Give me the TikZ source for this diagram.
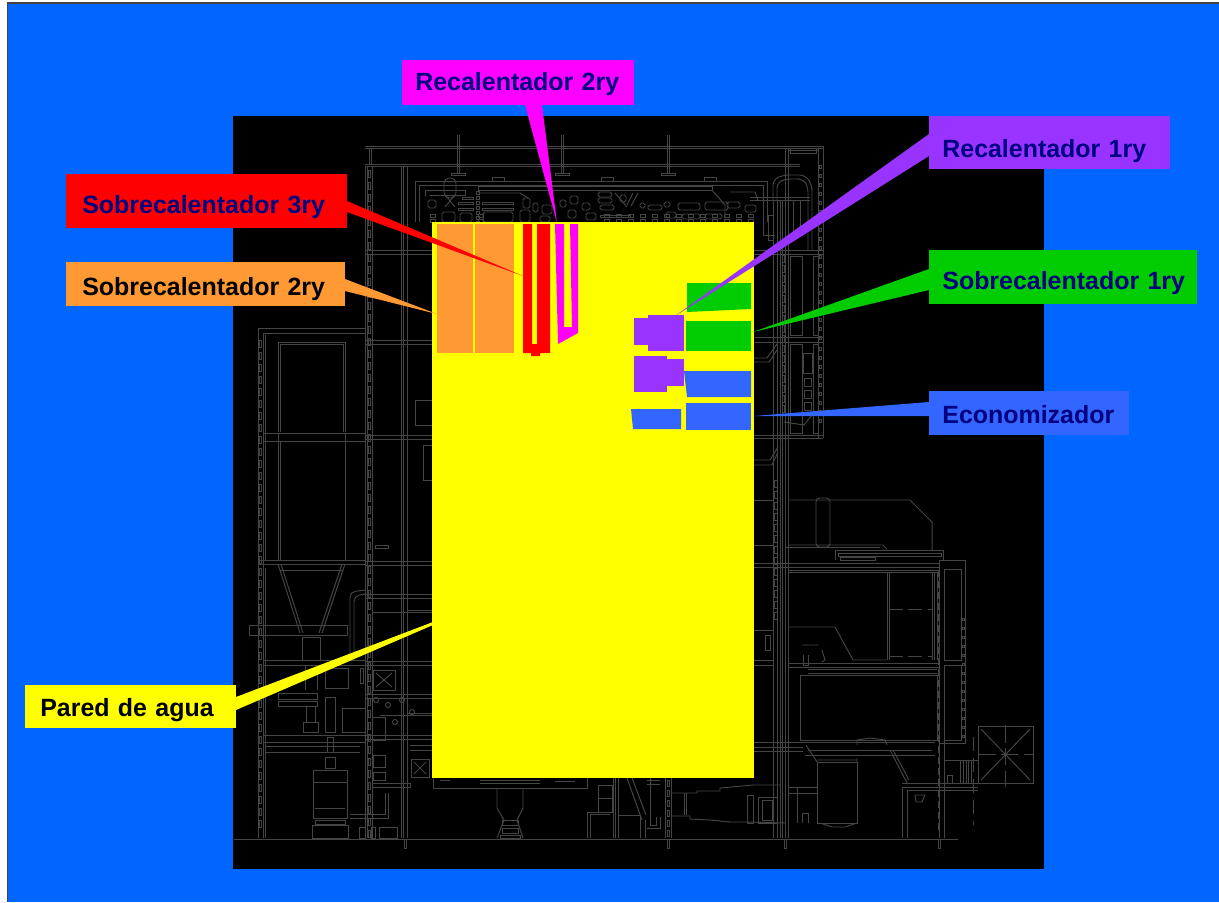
\documentclass[tikz,border=0pt]{standalone}
\usepackage{fontspec}
\setmainfont{Liberation Sans}
\definecolor{seablue}{HTML}{0066FF}
\definecolor{wirecol}{HTML}{454545}
\definecolor{yellowwall}{HTML}{FFFF00}
\definecolor{redpart}{HTML}{FF0000}
\definecolor{magentapart}{HTML}{FF00FF}
\definecolor{orangepart}{HTML}{FF9933}
\definecolor{purplepart}{HTML}{9933FF}
\definecolor{greenpart}{HTML}{00CC00}
\definecolor{bluepart}{HTML}{3366FF}
\definecolor{navytext}{HTML}{000080}
\newcommand{\liftby}[2]{\raisebox{-#1\dimexpr0.02cm\relax}[0pt][0pt]{#2}}
\tikzset{
    wire/.style={draw=wirecol, line width=0.55pt},
    tag/.style={anchor=north west, inner xsep=0.26cm, inner ysep=0pt, align=left,
        font=\fontsize{14.2}{16}\selectfont\bfseries, text=navytext}
}

\begin{document}
\begin{tikzpicture}[x=0.02cm, y=-0.02cm]
    \useasboundingbox (0,0) rectangle (1219,902);

    % Slide background
    \fill[white] (0,0) rectangle (1219,902);
    \fill[wirecol] (7,2) rectangle (1219,902);
    \fill[seablue] (8,4) rectangle (1219,902);
    \fill[black] (233,116) rectangle (1044,869);

    % Top frame and roof posts
    \draw[wire] (365,146) -- (823,146) (365,148) -- (823,148);
    \draw[wire] (365,164) -- (800,164) (365,166) -- (800,166);
    \draw[wire] (369,148) -- (369,164) (371,148) -- (371,164);
    \foreach \px in {458,562,668} {
        \draw[wire] (\px-1,135) -- (\px-1,173) (\px+1,135) -- (\px+1,173);
        \draw[wire] (\px-7,173) rectangle (\px+7,175);
    }
    \draw[wire] (415,222) -- (415,181) -- (767,181) -- (767,222);
    \draw[wire] (419,222) -- (419,185) -- (763,185) -- (763,222);
    \foreach \px in {498,607,710}
        \draw[wire] (\px-6,177) rectangle (\px+6,181);

    % Header details above the furnace
    \draw[wire, rounded corners=3pt] (444,198) -- (444,178) -- (456,178) -- (456,198) -- cycle;
    \draw[wire] (445,195) -- (455,207) (455,195) -- (445,207);
    \draw[wire] (425,196) -- (425,190) -- (465,190) -- (465,195) -- (430,195);
    \draw[wire] (478,186) rectangle (712,190);
    \draw[wire] (478,193) -- (520,193) -- (528,198);
    \draw[wire] (712,190) -- (725,205) -- (725,222);
    \draw[wire] (730,192) -- (755,192) -- (758,200);
    \foreach \py/\wa/\wb in {203/458/473,209/458/473,203/482/513,209/482/513,198/462/473,216/600/630}
        \draw[wire] (\wa,\py-1) rectangle (\wb,\py+1);
    \foreach \ax/\ay/\bx/\by in {442/212/455/222,460/213/472/222,483/212/513/222,
        598/192/612/197,598/198/612/203,600/205/614/210,678/203/700/210,
        705/202/728/210,640/203/645/208,648/205/662/210,523/198/530/208,
        533/203/538/212,542/205/552/214,560/200/566/207,570/196/578/204,
        582/203/590/210,568/210/576/218,586/213/596/220,620/195/626/202,
        664/202/670/207,666/212/676/218,682/214/700/219,705/214/722/219,
        727/202/740/208,745/205/756/212,428/200/436/208,520/210/530/222,
        540/216/550/222}
        \draw[wire, rounded corners=1pt] (\ax,\ay) rectangle (\bx,\by);
    \foreach \ax in {430,478,604,616,628,640,652,664,676,688,700,712,724,736,748}
        \foreach \ay in {214,219}
            \draw[wire] (\ax,\ay) rectangle (\ax+5,\ay+3);
    \foreach \ay in {191,196,...,221}
        \draw[wire] (476,\ay) rectangle (479,\ay+3);
    \draw[wire] (633,193) -- (627,205) (638,193) -- (631,206) (615,193) -- (627,207);

    % Left tower columns
    \foreach \px in {365,367,372,401,403,407}
        \draw[wire] (\px,166) -- (\px,838);
    \foreach \ay in {170,182,...,830}
        \draw[wire] (368.5,\ay) rectangle (370.5,\ay+7);
    \foreach \ay in {250,340,435,561,594,661,694,735}
        \draw[wire] (365,\ay) -- (432,\ay) (365,\ay+4) -- (432,\ay+4);
    \draw[wire] (372,612) -- (432,612) (407,610) -- (432,610);
    \draw[wire] (407,713) -- (432,713);
    \draw[wire] (375,545) rectangle (388,548);
    \draw[wire] (415,400) rectangle (432,425);
    \draw[wire] (423,445) rectangle (432,480);

    % Left lower building
    \draw[wire] (365,328) -- (258,328) -- (258,838);
    \draw[wire] (365,333) -- (263,333) -- (263,838);
    \draw[wire] (265,335) -- (265,560) (265,568) -- (265,838);
    \foreach \ay in {340,352,...,830}
        \draw[wire] (259.5,\ay) rectangle (261.5,\ay+7);
    \draw[wire] (278,432) -- (278,342) -- (345,342) -- (345,432);
    \draw[wire] (280,432) -- (280,344) -- (343,344) -- (343,432);
    \draw[wire] (263,433) -- (365,433) (263,441) -- (365,441);
    \draw[wire] (278,433) -- (278,441) (345,433) -- (345,441);
    \draw[wire] (278,441) -- (278,560) (345,441) -- (345,560) (280,441) -- (280,560);
    \draw[wire] (258,560) -- (365,560) (258,564) -- (365,564);

    % Hopper and what hangs below it
    \draw[wire] (278,564) -- (300,633) (281,564) -- (303,633);
    \draw[wire] (345,564) -- (322,633) (342,564) -- (319,633);
    \draw[wire] (280,570) -- (343,570);
    \draw[wire] (249,625) rectangle (347,635);
    \draw[wire] (302,637) rectangle (320,660);
    \draw[wire] (263,660) -- (365,660) (263,665) -- (365,665);
    \draw[wire] (305,665) -- (305,690) (317,665) -- (317,690);
    \draw[wire, rounded corners=3pt] (350,660) -- (350,592) -- (365,590);
    \draw[wire, rounded corners=3pt] (354,660) -- (354,596) -- (365,594);
    \draw[wire] (325,668) rectangle (348,688);
    \draw[wire] (360,668) rectangle (363,683);
    \draw[wire] (373,670) rectangle (395,690);
    \draw[wire] (376,673) -- (392,687) (392,673) -- (376,687);
    \draw[wire] (278,693) rectangle (317,699) (278,701) rectangle (317,706);
    \draw[wire] (303,722) rectangle (318,732);
    \draw[wire] (306,706) -- (306,722) (315,706) -- (315,722);
    \draw[wire] (325,697) rectangle (335,732);
    \draw[wire] (342,708) rectangle (365,732);
    \draw[wire] (263,735) -- (365,735) (263,742) -- (365,742);
    \draw[wire] (265,746) -- (360,746) (265,752) -- (360,752);
    \draw[wire] (327,737) rectangle (333,752);
    \draw[wire] (325,757) rectangle (335,768);
    \draw[wire] (313,770) rectangle (347,818);
    \draw[wire] (313,782) -- (347,782) (315,808) -- (345,808);
    \draw[wire] (312,825) rectangle (348,838);
    \draw[wire] (315,820) rectangle (345,824);
    \draw[wire] (359,827) rectangle (365,838);
    \draw[wire] (371,827) rectangle (375,838);
    \draw[wire] (379,827) rectangle (397,838);
    \draw[wire] (350,814) -- (385,814) -- (385,793) (350,818) -- (388,818) -- (388,793);
    \draw[wire] (372,717) rectangle (385,740);
    \draw[wire] (373,755) rectangle (385,767);
    \draw[wire] (373,772) rectangle (385,780);
    \draw[wire] (411,759) rectangle (429,777);
    \draw[wire] (414,762) -- (426,774) (426,762) -- (414,774);
    \draw[wire] (372,783) rectangle (410,787);
    \draw[wire] (410,745) -- (432,745) -- (432,750) -- (410,750);
    \draw[wire] (380,715) -- (432,715);
    \foreach \ax/\ay in {376/700,388/705,402/700,412/712,395/722}
        \draw[wire] (\ax,\ay) circle (2.5);

    % Furnace bottom
    \draw[wire] (433,778) -- (433,788) -- (587,788) -- (587,778);
    \draw[wire] (440,780) -- (450,780) (480,780) -- (540,780) (480,783) -- (540,783) (555,781) -- (575,781);
    \draw[wire] (497,788) -- (497,808) -- (504,820) -- (497,838);
    \draw[wire] (523,788) -- (523,808) -- (517,820) -- (523,838);
    \draw[wire] (502,820) rectangle (518,825) (502,828) rectangle (518,833) (500,835) rectangle (520,838);

    % Floor
    \draw[wire] (234,839) -- (958,839);
    \foreach \px in {405,668,785,939}
        \draw[wire] (\px-1,839) rectangle (\px+1,848);

    % Lower middle plant
    \draw[wire] (587,838) -- (587,812) -- (610,812) (590,838) -- (590,814) -- (610,814);
    \draw[wire] (598,785) rectangle (612,798) (598,798) rectangle (612,812);
    \draw[wire] (613,778) -- (613,838) (615,778) -- (615,838) (618,778) -- (618,838);
    \draw[wire] (627,778) -- (642,820) (632,778) -- (646,815);
    \draw[wire] (618,815) -- (640,815) -- (640,838);
    \draw[wire] (645,820) -- (645,838) (650,778) -- (650,825);
    \draw[wire] (647,780) -- (660,780) (647,784) -- (660,784);
    \draw[wire] (660,817) -- (660,828) -- (647,828) (656,817) -- (656,825) -- (650,825);
    \draw[wire] (665,778) -- (665,838) (671,778) -- (671,838);
    \foreach \ay in {780,790,...,830}
        \draw[wire] (667,\ay) rectangle (669,\ay+6);

    % Lower duct to the right of the plant
    \draw[wire] (672,793) -- (697,793) -- (697,791) -- (720,791) -- (720,788) -- (753,785) -- (780,785);
    \draw[wire] (672,816) -- (690,816) -- (690,819) -- (710,820) -- (730,822) -- (747,822) -- (785,823);
    \draw[wire] (684,793) -- (684,815) (686,793) -- (686,815);
    \draw[wire] (747,795) rectangle (753,823);
    \draw[wire] (758,797) rectangle (777,823);
    \draw[wire] (762,800) rectangle (772,820);

    % Right tower
    \foreach \px in {773,777,780,782,785,788}
        \draw[wire] (\px,200) -- (\px,838);
    \draw[wire] (818,148) -- (818,438) (823,146) -- (823,438);
    \draw[wire] (785,148) -- (785,200) (788,148) -- (788,200);
    \draw[wire] (788,150) -- (818,150) (790,148) rectangle (816,153);
    \foreach \ay in {165,174,...,340,347,356,...,420}
        \draw[wire] (819.5,\ay) rectangle (821.5,\ay+3);
    \foreach \ay in {255,265,...,410}
        \draw[wire] (782,\ay) rectangle (784,\ay+7);
    \draw[wire, rounded corners=3pt] (773,200) -- (773,180) -- (783,175) -- (805,175) -- (812,185) -- (812,250);
    \draw[wire, rounded corners=3pt] (777,200) -- (777,183) -- (785,179) -- (803,179) -- (808,187) -- (808,250);
    \draw[wire] (750,197) -- (810,197) (750,200) -- (810,200);
    \draw[wire] (793,200) rectangle (800,235);
    \draw[wire] (768,215) rectangle (773,240);
    \draw[wire] (763,222) -- (763,235) -- (775,235);
    \draw[wire] (754,250) -- (823,250) (754,254) -- (823,254);
    \draw[wire] (755,337) -- (823,337) (755,342) -- (823,342);
    \draw[wire] (790,256) rectangle (802,335);
    \draw[wire] (790,344) rectangle (802,433);
    \draw[wire] (813,256) rectangle (818,335);
    \draw[wire] (813,344) rectangle (818,433);
    \draw[wire] (803,353) rectangle (812,373);
    \foreach \ay in {378,390,402}
        \draw[wire] (804,\ay) rectangle (811,\ay+8);
    \draw[wire] (754,358) -- (767,358) -- (777,344) (754,362) -- (769,362) -- (777,350);
    \draw[wire] (754,435) -- (823,435) (754,438) -- (823,438);
    \draw[wire] (784,422) -- (804,425) -- (812,415);
    \draw[wire] (754,460) -- (770,460) -- (778,447) (754,465) -- (772,465) -- (778,452);
    \foreach \ay in {480,491,...,620}
        \draw[wire] (774,\ay) rectangle (777,\ay+7);

    % Flue duct and the boxes beneath it
    \draw[wire] (788,500) -- (910,500) -- (932,522) -- (932,550);
    \draw[wire] (754,500) -- (773,500) (754,545) -- (773,545);
    \draw[wire, rounded corners=2pt] (816,498) rectangle (830,547);
    \draw[wire] (788,545) -- (883,545) -- (887,549);
    \draw[wire] (785,547) -- (880,547);
    \draw[wire] (835,560) -- (835,550) -- (943,550) -- (943,560);
    \draw[wire] (838,553) rectangle (941,556);
    \draw[wire] (840,557) rectangle (875,560);
    \draw[wire] (940,560) -- (965,560) -- (965,743) -- (940,743);
    \foreach \ay in {618,627,...,735}
        \draw[wire] (962,\ay) rectangle (964,\ay+2);
    \draw[wire] (754,563) -- (940,563) (754,567) -- (940,567);
    \draw[wire] (788,570) -- (940,570) (788,572) -- (940,572);
    \foreach \px in {887,889,932,934,937}
        \draw[wire] (\px,572) -- (\px,660);
    \draw[wire] (939,560) -- (939,838) (944,665) -- (944,838);
    \foreach \ay in {570,581,...,830}
        \draw[wire] (938.5,\ay) -- (938.5,\ay+7);
    \draw[wire, dash pattern=on 8pt off 3pt] (889,609) -- (932,609);
    \draw[wire, dash pattern=on 8pt off 3pt] (889,656) -- (932,656);
    \draw[wire] (944,569) rectangle (961,660);
    \draw[wire] (944,665) rectangle (961,740);
    \draw[wire] (789,627) -- (835,627) -- (853,660) -- (887,660);
    \draw[wire] (754,630) -- (773,630) (765,635) rectangle (770,650);
    \draw[wire] (802,645) -- (818,645) (822,650) -- (825,660) -- (822,662);
    \draw[wire] (803,655) -- (803,665) -- (808,665) -- (808,655);
    \draw[wire] (754,660) -- (773,660) (754,665) -- (773,665);
    \draw[wire] (788,663) -- (940,663) (788,667) -- (940,667);
    \draw[wire] (808,669) -- (937,669) (808,673) -- (937,673);
    \draw[wire] (800,740) -- (800,675) -- (937,675) -- (937,740) -- cycle;
    \draw[wire] (754,742) -- (935,742) (754,747) -- (803,747) (754,751) -- (803,751);
    \draw[wire] (805,755) -- (935,755) (808,750) -- (932,750);
    \draw[wire] (857,745) -- (857,740) -- (870,738) -- (885,740) -- (887,745);

    % Lower right boxes and fan
    \draw[wire] (817,762) rectangle (857,823);
    \draw[wire] (806,745) -- (817,762) (857,758) -- (857,762) (817,760) -- (857,760);
    \draw[wire] (820,823) -- (832,827) -- (845,827) -- (857,823);
    \draw[wire] (890,750) -- (907,783) (893,750) -- (909,780);
    \draw[wire] (902,838) -- (902,787) -- (978,787) (907,838) -- (907,790) -- (978,790);
    \draw[wire] (902,783) -- (978,783);
    \draw[wire] (915,795) -- (925,795) -- (922,802) -- (916,802) -- cycle;
    \draw[wire] (788,787) -- (817,787) (788,793) -- (817,793) (797,787) -- (797,823);
    \draw[wire] (802,823) -- (802,813) -- (808,813) -- (808,823);
    \draw[wire] (945,760) -- (978,760) (960,760) -- (960,783) (947,775) rectangle (952,783);
    \draw[wire] (963,760) rectangle (966,783) (968,760) rectangle (971,783);
    \draw[wire, dash pattern=on 8pt off 4pt] (973,737) -- (973,825);
    \draw[wire] (978,726) rectangle (1033,783);
    \draw[wire] (981,729) -- (1030,780) (1030,729) -- (981,780);
    \draw[wire, dash pattern=on 10pt off 3pt] (978,754) -- (1034,754);
    \draw[wire, dash pattern=on 10pt off 3pt] (1005,725) -- (1005,787);

    % Water wall
    \fill[yellowwall] (432,222) rectangle (754,778);

    % Parts drawn on the water wall
    \fill[orangepart] (437,224) rectangle (473,353);
    \fill[orangepart] (475,224) rectangle (514,353);
    \fill[redpart] (523,224) -- (532,224) -- (532,344) -- (537,344) -- (537,224) -- (550,224)
        -- (550,353) -- (540,353) -- (540,356) -- (531,356) -- (531,353) -- (523,353) -- cycle;
    \fill[magentapart] (555,224) -- (564,224) -- (564,327) -- (572,327) -- (570,224) -- (578,224)
        -- (578,333) -- (558,344) -- cycle;
    \fill[greenpart] (687,283) -- (751,283) -- (751,309) -- (687,312) -- cycle;
    \fill[greenpart] (686,321) rectangle (751,351);
    \fill[purplepart] (634,318) rectangle (648,345);
    \fill[purplepart] (648,315) rectangle (684,351);
    \fill[purplepart] (634,356) rectangle (667,392);
    \fill[purplepart] (667,359) rectangle (684,386);
    \fill[bluepart] (684,371) -- (751,371) -- (751,397) -- (687,397) -- cycle;
    \fill[bluepart] (631,409) -- (681,409) -- (681,429) -- (633,429) -- cycle;
    \fill[bluepart] (686,403) rectangle (751,430);

    % Labels
    \node[tag, fill=magentapart, minimum height=0.9cm, text width=4.12cm] (recal2) at (402,60) {\liftby{8}{Recalentador~2ry}};
    \node[tag, fill=redpart, inner xsep=0.32cm, minimum height=1.08cm, text width=4.98cm] (sobre3) at (66,174) {\liftby{12}{Sobrecalentador~3ry}};
    \node[tag, fill=orangepart, text=black, inner xsep=0.32cm, minimum height=0.88cm, text width=4.94cm] (sobre2) at (66,262) {\liftby{11}{Sobrecalentador~2ry}};
    \node[tag, fill=purplepart, minimum height=1.06cm, text width=4.30cm] (recal1) at (929,116) {\liftby{14.5}{Recalentador~1ry}};
    \node[tag, fill=greenpart, minimum height=1.08cm, text width=4.84cm] (sobre1) at (929,250) {\liftby{12}{Sobrecalentador~1ry}};
    \node[tag, fill=bluepart, minimum height=0.88cm, text width=3.48cm] (econo) at (929,391) {\liftby{10}{Economizador}};
    \node[tag, fill=yellowwall, text=black, inner xsep=0.3cm, minimum height=0.86cm, text width=3.62cm] (pared) at (25,685) {\liftby{9.5}{Pared~de~agua}};

    % Pointers from the labels
    \fill[magentapart] (525,105) -- (542,105) -- (557,223) -- cycle;
    \fill[redpart] (347,201) -- (347,212) -- (523,276) -- cycle;
    \fill[orangepart] (345,279) -- (345,291) -- (437,314) -- cycle;
    \fill[purplepart] (929,134) -- (929,156) -- (675,316) -- cycle;
    \fill[greenpart] (929,269) -- (929,290) -- (753,332) -- cycle;
    \fill[bluepart] (929,402) -- (929,416) -- (754,416) -- cycle;
    \fill[yellowwall] (236,697) -- (236,710) -- (433,625) -- (433,622) -- cycle;
\end{tikzpicture}
\end{document}
